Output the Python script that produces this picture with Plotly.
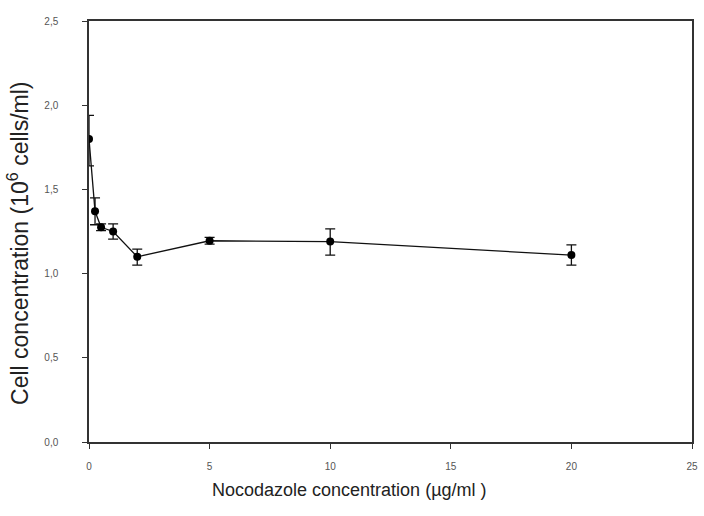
import plotly.graph_objects as go

conc = [0, 0.25, 0.5, 1, 2, 5, 10, 20]
cells = [1.80, 1.37, 1.275, 1.25, 1.10, 1.195, 1.19, 1.11]
err_up = [0.14, 0.08, 0.02, 0.045, 0.045, 0.02, 0.075, 0.06]
err_dn = [0.16, 0.08, 0.02, 0.045, 0.05, 0.02, 0.08, 0.06]

x_ticks = [0, 5, 10, 15, 20, 25]
y_ticks = [0.0, 0.5, 1.0, 1.5, 2.0, 2.5]
y_tick_labels = ["0,0", "0,5", "1,0", "1,5", "2,0", "2,5"]

x_title = "Nocodazole concentration (µg/ml )"
y_title = "Cell concentration (10<sup>6</sup> cells/ml)"

fig = go.Figure()
fig.add_trace(go.Scatter(
    x=conc, y=cells, mode="lines+markers",
    line=dict(color="#111", width=1.3),
    marker=dict(color="#000", size=8),
    error_y=dict(type="data", symmetric=False, array=err_up, arrayminus=err_dn,
                 color="#111", thickness=1.3, width=5),
    showlegend=False,
))

axis_common = dict(
    showline=True, linecolor="#333", linewidth=1.5, mirror=True,
    ticks="outside", ticklen=5, tickcolor="#333", tickwidth=1.2,
    showgrid=False, zeroline=False,
    tickfont=dict(family="Liberation Sans, Arial", size=10, color="#555"),
)

fig.update_xaxes(range=[0, 25], tickvals=x_ticks, ticktext=[str(v) for v in x_ticks],
                 ticklabelstandoff=9, **axis_common)
fig.update_yaxes(range=[0, 2.5], tickvals=y_ticks, ticktext=y_tick_labels,
                 ticklabelstandoff=22, **axis_common)

fig.add_annotation(text=x_title, xref="paper", yref="paper", x=0.432, y=-0.115,
                   xanchor="center", yanchor="middle", showarrow=False,
                   font=dict(family="Liberation Sans, Arial", size=18, color="#222"))
fig.add_annotation(text=y_title, xref="paper", yref="paper", x=-0.117, y=0.4715,
                   xanchor="center", yanchor="middle", showarrow=False, textangle=-90,
                   font=dict(family="Liberation Sans, Arial", size=23, color="#222"))

fig.update_layout(
    width=704, height=516,
    margin=dict(l=89, r=6, t=21, b=74),
    plot_bgcolor="white", paper_bgcolor="white",
)

fig.write_html("out.html")
